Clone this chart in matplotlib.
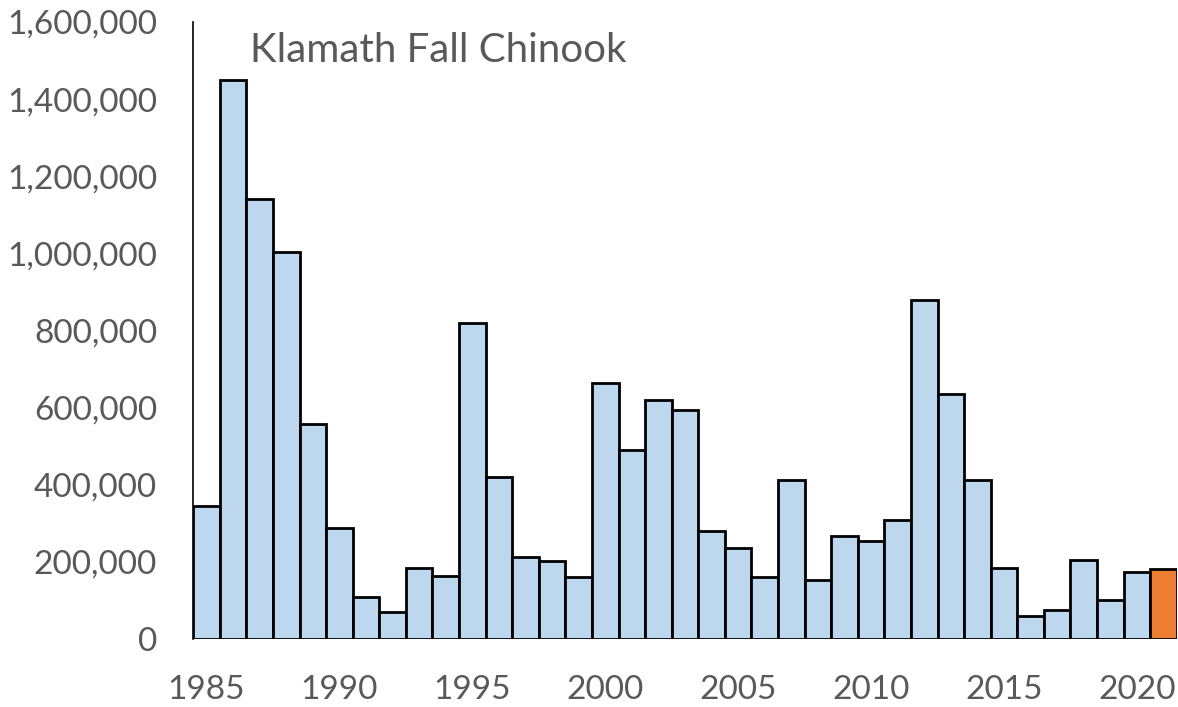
import numpy as np
import matplotlib.pyplot as plt

plt.rcParams['font.family'] = ['Lato', 'DejaVu Sans']

years = list(range(1985, 2022))
fish = [345000, 1450000, 1141000, 1004000, 557000, 288000, 109000, 70000,
        184000, 163000, 819000, 420000, 213000, 202000, 161000, 664000,
        490000, 620000, 594000, 280000, 236000, 161000, 412000, 153000,
        267000, 254000, 309000, 879000, 635000, 412000, 184000, 60000,
        75000, 205000, 101000, 174000, 182000]
tick_years = [1985, 1990, 1995, 2000, 2005, 2010, 2015, 2020]

colors = ['#bdd7ee'] * (len(years) - 1) + ['#ed7d31']

fig = plt.figure(figsize=(11.78, 7.07), dpi=100)
ax = fig.add_axes([0.164, 0.096, 0.835, 0.873])

x = np.arange(len(years))
ax.bar(x, fish, width=1.0, color=colors, edgecolor='black', linewidth=2.0)

ax.set_xlim(-0.5, len(years) - 0.5)
ax.set_ylim(0, 1600000)
ax.set_yticks(np.arange(0, 1600001, 200000))
ax.set_yticklabels([f'{v:,}' for v in range(0, 1600001, 200000)])
ax.set_xticks([years.index(y) for y in tick_years])
ax.set_xticklabels([str(y) for y in tick_years])
ax.tick_params(length=0, labelsize=24, labelcolor='#595959')
ax.tick_params(axis='y', pad=26)
ax.tick_params(axis='x', pad=26)

for s in ['top', 'right', 'bottom']:
    ax.spines[s].set_visible(False)
ax.spines['left'].set_linewidth(1.2)

ax.text(0.058, 0.953, 'Klamath Fall Chinook', transform=ax.transAxes,
        fontsize=29, color='#595959', va='center', ha='left')

fig.savefig('out.png', dpi=100)
